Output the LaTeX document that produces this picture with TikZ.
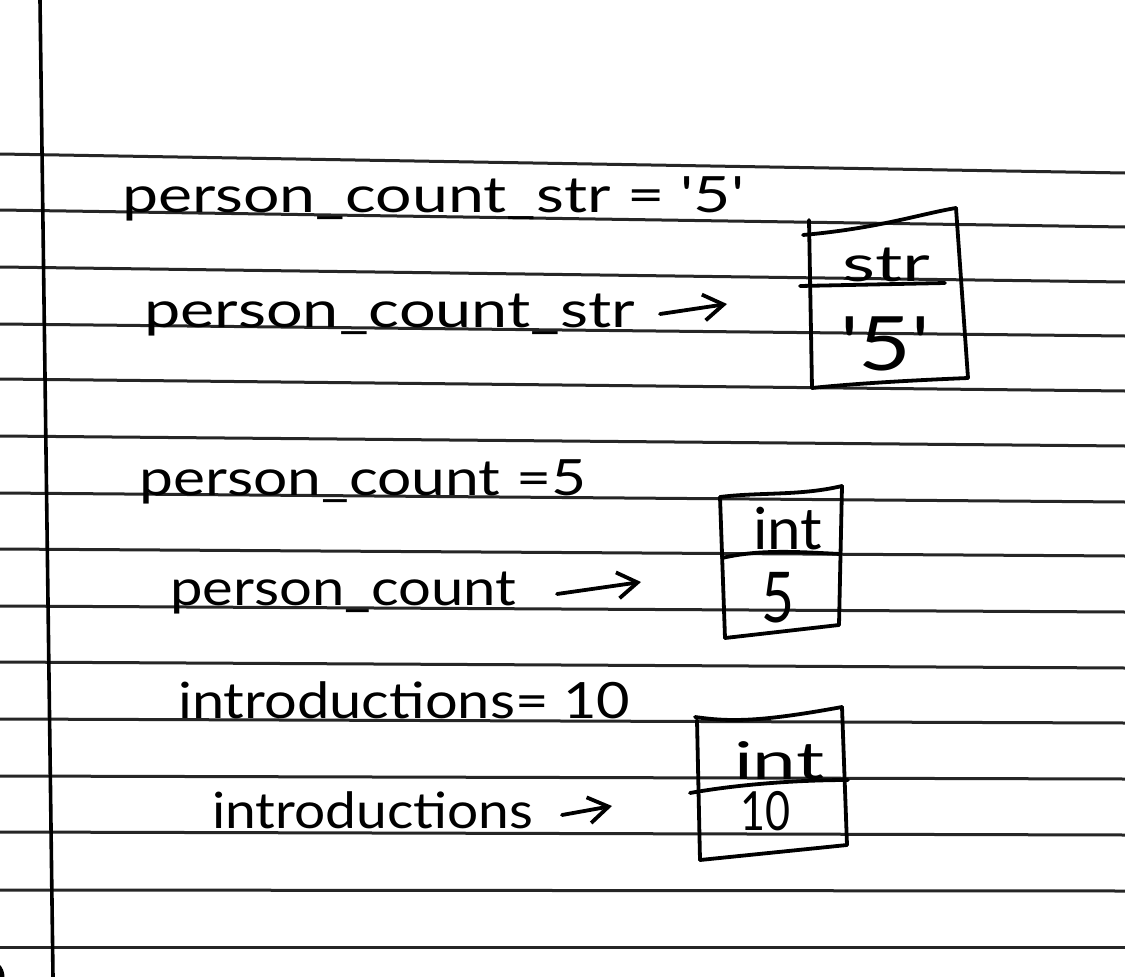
\documentclass[tikz,border=0pt]{standalone}
\usepackage{fontspec}
\usepackage{graphicx}
\setmainfont{Lato}
\usetikzlibrary{arrows.meta}
\newcommand\handw[2]{\resizebox{#1pt}{\height}{#2}}
\begin{document}
\begin{tikzpicture}[x=1pt,y=-1pt,
  rule/.style={line width=3pt, black!85},
  ink/.style={line width=3.8pt, black, line cap=round, line join=round},
  hand/.style={inner sep=0pt, anchor=base west},
  big/.style={font=\fontsize{50}{50}\selectfont},
  tip/.style={-{Straight Barb[length=20pt,width=26pt,line width=3.8pt]}}]
\useasboundingbox (0,0) rectangle (1125,977);
\fill[white] (0,0) rectangle (1125,977);
% ruled lines
\foreach \l/\r in {154/173,210/227,267/282,324/336,379/391,436/446,493/502,549/556,606/612,662/668,719/723,776/779,832/835,890/891,947/947}
  \draw[rule] (0,\l) -- (1125,\r);
% margin line
\draw[line width=3.6pt] (40,0) -- (53,977);
\draw[line width=5pt] (-14,961) arc[start angle=90, end angle=0, radius=16pt];
% row texts
\node[hand,big] (r1) at (122,212) {\handw{622}{person\_count\_str = \textquotesingle5\textquotesingle}};
\node[hand,big] (r2) at (144,327) {\handw{491}{person\_count\_str}};
\node[hand,big] (r3) at (139,495) {\handw{447}{person\_count =5}};
\node[hand,big] (r4) at (170,605) {\handw{346}{person\_count}};
\node[hand,big] (r5) at (178,718) {\handw{452}{introductions= 10}};
\node[hand,big] (r6) at (212,828) {\handw{321}{introductions}};
% arrows
\coordinate (a2s) at (660,314); \coordinate (a2e) at (727,304);
\coordinate (a4s) at (557,594); \coordinate (a4e) at (641,582);
\coordinate (a6s) at (562,815); \coordinate (a6e) at (612,806);
\draw[ink,tip] (a2s) -- (a2e);
\draw[ink,tip] (a4s) -- (a4e);
\draw[ink,tip] (a6s) -- (a6e);
% box 1 (str)
\draw[ink] (809,220) -- (812,388);
\draw[ink] (803,235) .. controls (880,228) and (920,214) .. (956,208);
\draw[ink] (956,208) -- (968,378);
\draw[ink] (968,378) .. controls (920,380) and (860,383) .. (812,388);
\draw[ink] (800,286) -- (945,283);
\node[hand,font=\fontsize{50}{50}\selectfont] (s1t) at (842,281) {\handw{88}{str}};
\node[hand,font=\fontsize{75}{75}\selectfont] (s1v) at (840,370) {\handw{90}{\textquotesingle5\textquotesingle}};
% box 2 (int 5)
\draw[ink] (720,497) .. controls (760,492) and (800,496) .. (842,486);
\draw[ink] (842,486) -- (839,625);
\draw[ink] (839,625) -- (725,638);
\draw[ink] (720,497) -- (725,638);
\draw[ink] (722,558) .. controls (760,549) and (800,552) .. (840,554);
\node[hand,font=\fontsize{58}{58}\selectfont] (s2t) at (753,549) {\handw{69}{int}};
\node[hand,font=\fontsize{70}{70}\selectfont] (s2v) at (761,622) {\handw{33}{5}};
% box 3 (int 10)
\draw[ink] (695,717) .. controls (730,722) and (760,722) .. (842,707);
\draw[ink] (697,720) -- (700,860);
\draw[ink] (842,707) -- (847,845);
\draw[ink] (847,845) -- (700,860);
\draw[ink] (690,793) .. controls (740,784) and (800,780) .. (848,780);
\node[hand,font=\fontsize{52}{52}\selectfont] (s3t) at (734,779) {\handw{90}{int}};
\node[hand,font=\fontsize{54}{54}\selectfont] (s3v) at (740,830) {\handw{50}{10}};
\end{tikzpicture}
\end{document}
